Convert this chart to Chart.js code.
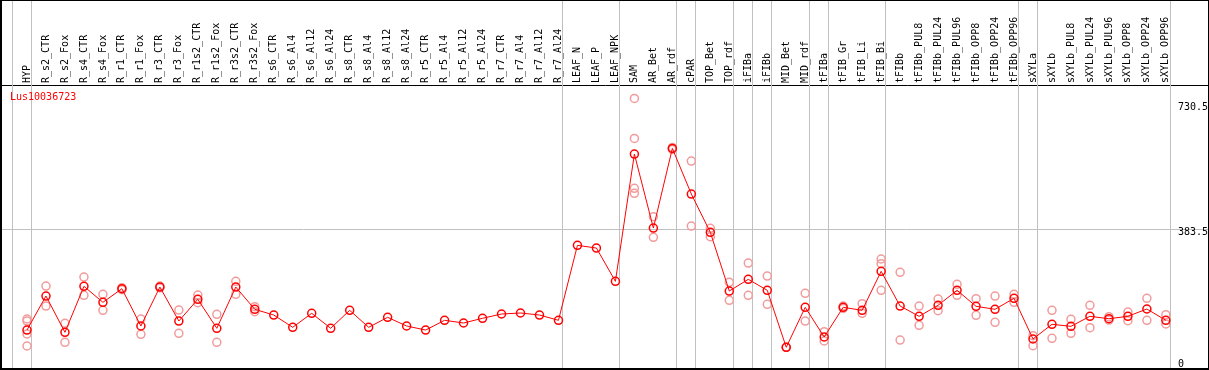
<!DOCTYPE html>
<html>
<head>
    <meta charset="UTF-8">
    <title>Lus10036723</title>
    <script src="https://cdn.jsdelivr.net/npm/chart.js@4.4.1/dist/chart.umd.min.js"></script>
    <style>
        body { margin: 0; background: #fff; }
        #box { position: relative; width: 1209px; height: 370px; box-sizing: border-box;
               border-style: solid; border-color: #000; border-width: 1px 1px 2px 2px; }
        #gene { position: absolute; left: 8px; top: 90px; color: #f00;
                font: 10px "DejaVu Sans Mono", monospace; line-height: 12px; }
    </style>
</head>
<body>
<div id="box">
    <canvas id="myChart" width="1206" height="367"></canvas>
    <div id="gene">Lus10036723</div>
</div>
<script>
    const categories = ['HYP', 'R_s2_CTR', 'R_s2_Fox', 'R_s4_CTR', 'R_s4_Fox', 'R_r1_CTR', 'R_r1_Fox',
        'R_r3_CTR', 'R_r3_Fox', 'R_r1s2_CTR', 'R_r1s2_Fox', 'R_r3s2_CTR', 'R_r3s2_Fox',
        'R_s6_CTR', 'R_s6_Al4', 'R_s6_Al12', 'R_s6_Al24', 'R_s8_CTR', 'R_s8_Al4', 'R_s8_Al12', 'R_s8_Al24',
        'R_r5_CTR', 'R_r5_Al4', 'R_r5_Al12', 'R_r5_Al24', 'R_r7_CTR', 'R_r7_Al4', 'R_r7_Al12', 'R_r7_Al24',
        'LEAF_N', 'LEAF_P', 'LEAF_NPK', 'SAM', 'AR_Bet', 'AR_rdf', 'cPAR', 'TOP_Bet', 'TOP_rdf',
        'iFIBa', 'iFIBb', 'MID_Bet', 'MID_rdf', 'tFIBa', 'tFIB_Gr', 'tFIB_Li', 'tFIB_Bi',
        'tFIBb', 'tFIBb_PUL8', 'tFIBb_PUL24', 'tFIBb_PUL96', 'tFIBb_OPP8', 'tFIBb_OPP24', 'tFIBb_OPP96',
        'sXYLa', 'sXYLb', 'sXYLb_PUL8', 'sXYLb_PUL24', 'sXYLb_PUL96', 'sXYLb_OPP8', 'sXYLb_OPP24', 'sXYLb_OPP96'];

    // mean expression per sample
    const meanValues = [102.8, 197.3, 96.4, 224.3, 179.8, 217.6, 114, 222.3, 127.8, 188.2, 107.6, 222.3, 160.4,
        144.5, 110.3, 149.2, 107.6, 157.6, 110.3, 138.1, 114,
        102.8, 129.8, 122.3, 135.4, 147.3, 150.1, 144.5, 129.8,
        338.2, 330.7, 238.2, 592, 386.3, 607.8, 480.8, 374.4, 211.2,
        243.7, 213.2, 54.8, 165.9, 83.4, 165.9, 157.6, 266,
        169.5, 140.9, 171.5, 213.2, 168.7, 160.4, 190.9,
        77.8, 118.7, 113.1, 140.9, 134.2, 140.9, 161.2, 129.8];

    // replicates (null = none shown)
    const repA = [133.4, 225.1, 121.5, 250.1, 202, 215, 133.4, 225.1, 158.4, 200.1, 146.5, 238.2, 167.6,
        null, null, null, null, null, null, null, null,
        null, null, null, null, null, null, null, null,
        null, null, null, 746.8, 417.7, 605, 572.5, 385.5, 235.4,
        289, 252.9, 54.8, 204.8, 98.1, 169.5, 175.9, 300.2,
        263.2, 169.5, 189, 229.8, 189.8, 197.3, 202,
        87, 157.6, 132.6, 171.5, 139.8, 152.9, 190.9, 145.4];
    const repB = [127.8, 169.5, 68.6, 199.3, 157.6, 220, 90.9, 220.4, 93.7, 178.7, 68.6, 202, 153.7,
        null, null, null, null, null, null, null, null,
        null, null, null, null, null, null, null, null,
        null, null, null, 635.6, 360.5, 610, 391.9, 362.1, 185.4,
        199.3, 174.3, 54.8, 127.8, 72.3, 162.6, 149.2, 287.1,
        75, 115.9, 156.5, 199.3, 143.7, 124.2, 179.8,
        59.2, 79.8, 93.7, 109.2, 130.6, 128.7, 129.8, 119.5];
    const repC = [91.7, null, null, null, null, null, null, null, null, null, null, null, null,
        null, null, null, null, null, null, null, null,
        null, null, null, null, null, null, null, null,
        null, null, null, 496.7, null, null, null, null, null,
        null, null, null, null, null, null, null, 213.2,
        null, null, null, null, null, null, null,
        null, null, null, null, null, null, null, null];
    const repD = [58.4, null, null, null, null, null, null, null, null, null, null, null, null,
        null, null, null, null, null, null, null, null,
        null, null, null, null, null, null, null, null,
        null, null, null, 482.8, null, null, null, null, null,
        null, null, null, null, null, null, null, null,
        null, null, null, null, null, null, null,
        null, null, null, null, null, null, null, null];

    const yTicks = [0, 383.5, 730.5];
    // group separators drawn right after these sample indexes
    const groupEnds = [-1, 0, 28, 31, 34, 35, 37, 38, 39, 41, 42, 45, 52, 53, 60];

    const toPoints = arr => arr.map((v, i) => ({ x: i, y: v })).filter(p => p.y !== null);
    const font = { family: 'DejaVu Sans Mono', size: 10 };

    const repStyle = {
        type: 'scatter',
        showLine: false,
        pointRadius: 4,
        pointBorderWidth: 1.5,
        pointBorderColor: '#f29b9b',
        pointBackgroundColor: 'rgba(0,0,0,0)'
    };

    const separators = {
        id: 'separators',
        beforeDatasetsDraw(chart) {
            const ctx = chart.ctx;
            const xs = chart.scales.x;
            ctx.save();
            ctx.strokeStyle = '#c0c0c0';
            ctx.lineWidth = 1;
            groupEnds.forEach(i => {
                const px = Math.round(xs.getPixelForValue(i + 0.2)) + 0.5;
                ctx.beginPath();
                ctx.moveTo(px, 0);
                ctx.lineTo(px, chart.height);
                ctx.stroke();
            });
            ctx.restore();
        }
    };

    const chart = new Chart(document.getElementById('myChart').getContext('2d'), {
        type: 'line',
        data: {
            datasets: [
                {
                    label: 'mean',
                    data: toPoints(meanValues),
                    borderColor: '#ff0000',
                    borderWidth: 1,
                    pointRadius: 4,
                    pointBorderWidth: 1.5,
                    pointBorderColor: '#ff0000',
                    pointBackgroundColor: 'rgba(0,0,0,0)',
                    tension: 0,
                    clip: false
                },
                Object.assign({ label: 'rep1', data: toPoints(repA) }, repStyle),
                Object.assign({ label: 'rep2', data: toPoints(repB) }, repStyle),
                Object.assign({ label: 'rep3', data: toPoints(repC) }, repStyle),
                Object.assign({ label: 'rep4', data: toPoints(repD) }, repStyle)
            ]
        },
        options: {
            responsive: false,
            animation: false,
            devicePixelRatio: 1,
            layout: { padding: 0, autoPadding: false },
            plugins: { legend: { display: false }, tooltip: { enabled: false } },
            scales: {
                x: {
                    type: 'linear',
                    position: 'top',
                    min: -1.317,
                    max: 62.22,
                    afterBuildTicks: s => { s.ticks = categories.map((c, i) => ({ value: i })); },
                    afterFit: s => { s.height = 84; s.paddingLeft = 0; s.paddingRight = 0; },
                    grid: { display: false, drawTicks: false },
                    border: { display: true, color: '#000', width: 1 },
                    ticks: {
                        autoSkip: false,
                        minRotation: 90,
                        maxRotation: 90,
                        padding: 2,
                        labelOffset: 12,
                        color: '#000',
                        font: font,
                        callback: v => categories[v]
                    }
                },
                y: {
                    type: 'linear',
                    position: 'right',
                    min: -2.8,
                    max: 784,
                    afterBuildTicks: s => { s.ticks = yTicks.map(v => ({ value: v })); },
                    afterFit: s => { s.width = 0; s.paddingTop = 0; s.paddingBottom = 0; },
                    grid: {
                        drawTicks: false,
                        color: c => (c.tick && c.tick.value === 383.5) ? '#c0c0c0' : 'rgba(0,0,0,0)'
                    },
                    border: { display: false },
                    ticks: {
                        autoSkip: false,
                        mirror: true,
                        crossAlign: 'far',
                        padding: 0,
                        labelOffset: 3,
                        color: '#000',
                        font: font,
                        // the bottom label is lifted one half line so it stays inside the frame
                        callback: v => v === 0 ? ['0', ''] : String(v)
                    }
                }
            }
        },
        plugins: [separators]
    });
</script>
</body>
</html>
